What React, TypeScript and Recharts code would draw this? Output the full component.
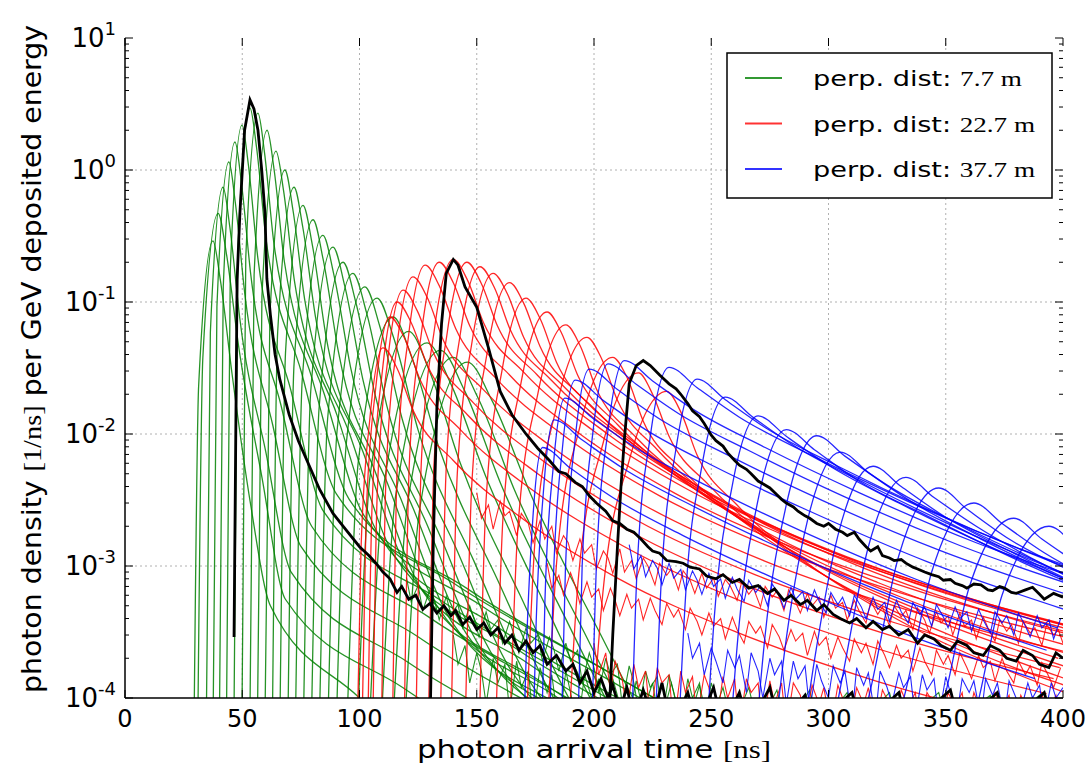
import React from "react";
import { LineChart, Line, XAxis, YAxis, CartesianGrid } from "recharts";

type Pt = [number, number];

// perp. dist 7.7 m (time [ns], density) key points
const greenCurves: Pt[][] = [
  [[29.4,5e-5],[31.4,0.023],[37.5,0.29],[40.7,0.145],[45.6,0.029],[53.6,0.0029],[62,5e-4],[100,1e-4],[130,3e-5]],
  [[31,5e-5],[33.2,0.038],[39.7,0.47],[43.2,0.235],[48.4,0.047],[58.4,0.0047],[68.4,5.6e-4],[118.4,1.2e-4],[178.4,2.8e-5]],
  [[34.6,5e-5],[36.4,0.059],[41.8,0.74],[44.7,0.37],[49,0.074],[60,0.0074],[71,8.9e-4],[121,1.85e-4],[181,4.4e-5],[210,2e-5]],
  [[37.5,5e-5],[39.2,0.092],[44.3,1.15],[47,0.575],[51.1,0.115],[63.1,0.0115],[75.1,0.0014],[125.1,2.9e-4],[185.1,6.9e-5],[230,2.5e-5]],
  [[40.2,5e-5],[41.9,0.13],[46.9,1.63],[49.6,0.815],[53.6,0.163],[66.6,0.0163],[79.6,0.002],[129.6,4.1e-4],[189.6,9.8e-5],[240,3e-5]],
  [[43.2,5e-5],[44.9,0.175],[49.9,2.19],[52.6,1.1],[56.6,0.219],[70.6,0.0219],[84.6,0.0026],[134.6,5.5e-4],[194.6,1.3e-4],[250,3.5e-5]],
  [[46.4,5e-5],[48.1,0.236],[53.3,2.95],[56.1,1.48],[60.2,0.295],[75.2,0.0295],[90.2,0.0035],[140.2,7.4e-4],[200.2,1.8e-4],[260,4.5e-5]],
  [[49.8,5e-5],[51.5,0.216],[56.7,2.7],[59.5,1.35],[63.6,0.27],[79.6,0.027],[95.6,0.0032],[145.6,6.8e-4],[205.6,1.6e-4],[265,4e-5]],
  [[53.2,5e-5],[55.05,0.16],[60.6,2.0],[63.6,1.0],[68,0.2],[85,0.02],[102,0.0024],[152,5e-4],[212,1.2e-4],[270,3e-5]],
  [[56.4,5e-5],[58.4,0.111],[64.4,1.39],[67.6,0.7],[72.4,0.139],[90.4,0.0139],[108.4,0.0017],[158.4,3.5e-4],[218.4,8.3e-5],[275,2.5e-5]],
  [[59.6,5e-5],[61.8,0.08],[68.2,1.0],[71.6,0.5],[76.8,0.1],[95.8,0.01],[114.8,0.0012],[164.8,2.5e-4],[224.8,6e-5],[280,2e-5]],
  [[62.8,5e-5],[65.1,0.059],[72.1,0.74],[75.8,0.37],[81.4,0.074],[101.4,0.0074],[121.4,8.9e-4],[171.4,1.85e-4],[231.4,4.4e-5]],
  [[66,5e-5],[68.5,0.043],[75.9,0.54],[79.9,0.27],[85.8,0.054],[106.3,0.0054],[126.8,6.5e-4],[176.8,1.35e-4],[236.8,3.2e-5]],
  [[69.4,5e-5],[72.1,0.034],[80.2,0.42],[84.5,0.21],[91,0.042],[112,0.0042],[133,5e-4],[183,1.05e-4],[243,2.5e-5]],
  [[72.6,5e-5],[75.6,0.026],[84.4,0.32],[89.1,0.16],[96.2,0.032],[117.7,0.0032],[139.2,3.8e-4],[189.2,8e-5],[249.2,1.9e-5]],
  [[76,5e-5],[79.2,0.021],[88.7,0.26],[93.8,0.13],[101.4,0.026],[123.4,0.0026],[145.4,3.1e-4],[195.4,6.5e-5],[255.4,1.6e-5]],
  [[79.4,5e-5],[82.8,0.016],[93,0.2],[98.4,0.1],[106.6,0.02],[129.1,0.002],[151.6,2.4e-4],[201.6,5e-5],[261.6,1.2e-5]],
  [[82.8,5e-5],[86.4,0.013],[97.2,0.165],[103,0.083],[111.6,0.0165],[134.6,0.00165],[157.6,2e-4],[207.6,4.1e-5]],
  [[86.4,5e-5],[90.4,0.0104],[102.3,0.13],[108.7,0.065],[118.2,0.013],[141.7,0.0013],[165.2,1.56e-4],[215.2,3.3e-5]],
  [[90,5e-5],[94.4,0.0086],[107.5,0.107],[114.5,0.054],[125,0.0107],[149,0.00107],[173,1.3e-4],[223,2.7e-5]],
  [[94.5,5e-5],[99.5,0.0062],[114.3,0.077],[122.2,0.0385],[134.1,0.0077],[159.1,7.7e-4],[184.1,9.2e-5],[234.1,1.9e-5]],
  [[99,5e-5],[104.5,0.0048],[121,0.06],[129.8,0.03],[143,0.006],[168.5,6e-4],[194,7.2e-5],[244,1.5e-5]],
  [[104,5e-5],[110.2,0.0039],[128.8,0.049],[138.7,0.0245],[153.6,0.0049],[179.6,4.9e-4],[205.6,5.9e-5],[250,1.2e-5]],
  [[109,5e-5],[115.4,0.0034],[134.5,0.043],[144.7,0.0215],[160,0.0043],[187,4.3e-4],[214,5.2e-5],[260,1e-5]],
  [[114,5e-5],[120.5,0.003],[140,0.038],[150.4,0.019],[166,0.0038],[193.5,3.8e-4],[221,4.6e-5],[265,1e-5]],
  [[119,5e-5],[125.8,0.0028],[146,0.035],[156.8,0.0175],[173,0.0035],[201,3.5e-4],[229,4.2e-5],[270,1e-5]],
];

// noisy low-level green tails
const greenNoise: Pt[][] = [
  [[120,8.2e-4],[122,5.4e-4],[125,7.1e-4],[127,4.6e-4],[130,6.6e-4],[132,5.5e-4],[134,3.9e-4],[137,5.9e-4],[139,4.3e-4],[142,5.1e-4],[144,3.4e-4],
   [147,5.0e-4],[149,3.9e-4],[151,2.9e-4],[154,4.5e-4],[156,3.3e-4],[159,3.9e-4],[161,2.6e-4],[164,3.8e-4],[166,3.0e-4],[168,2.2e-4],[171,3.4e-4],
   [173,2.6e-4],[176,3.0e-4],[178,1.9e-4],[181,2.9e-4],[183,2.3e-4],[185,1.6e-4],[188,2.6e-4],[190,1.9e-4],[193,2.3e-4],[195,1.3e-4],[198,2.2e-4],
   [200,1.7e-4],[202,1.1e-4],[205,2.0e-4],[207,1.5e-4],[210,1.8e-4],[212,9e-5],[215,1.75e-4],[217,1.3e-4],[219,8e-5],[222,1.6e-4],[224,1.2e-4],
   [227,1.45e-4],[229,7e-5],[232,1.5e-4],[234,1.1e-4],[237,6e-5],[240,1.4e-4],[242,1.0e-4],[245,1.3e-4],[247,6e-5],[250,1.3e-4],[253,9e-5],[256,6e-5]],
  [[140,3.0e-4],[142,1.8e-4],[145,2.5e-4],[147,1.3e-4],[150,2.2e-4],[152,1.6e-4],[154,9e-5],[157,2.0e-4],[159,1.3e-4],[162,1.8e-4],[164,8e-5],
   [167,1.9e-4],[169,1.2e-4],[172,1.6e-4],[174,7e-5],[177,1.7e-4],[180,1.1e-4],[182,1.5e-4],[185,6e-5],[188,1.6e-4],[190,1.1e-4],[193,6e-5],
   [196,1.5e-4],[199,1.0e-4],[202,1.4e-4],[204,6e-5],[208,1.4e-4],[211,9e-5],[214,6e-5],[218,1.35e-4],[221,8e-5],[225,1.3e-4],[228,6e-5],[233,1.3e-4],
   [236,8e-5],[240,6e-5],[245,1.25e-4],[249,6e-5],[255,1.2e-4],[259,6e-5],[266,1.2e-4],[270,6e-5],[278,1.15e-4],[282,6e-5],[292,1.15e-4],[296,6e-5],
   [308,1.1e-4],[312,6e-5],[326,1.1e-4],[330,6e-5],[347,1.1e-4],[351,6e-5],[369,1.05e-4],[373,6e-5],[390,1.05e-4],[394,6e-5]],
];

// perp. dist 22.7 m
const redCurves: Pt[][] = [
  [[99,5e-5],[100.65,0.00135],[104.5,0.0135],[110,0.045],[116,0.0315],[123,0.0149],[140,0.0063],[170,0.00225],[210,8.1e-4],[260,3.2e-4],[320,1.35e-4],[390,6.3e-5]],
  [[101,5e-5],[102.8,0.0023],[107,0.023],[113,0.077],[119,0.054],[126,0.0254],[143,0.0108],[173,0.00385],[213,0.0014],[263,5.4e-4],[323,2.3e-4],[393,1.08e-4]],
  [[103.5,5e-5],[105.4,0.003],[109.75,0.03],[116,0.1],[122,0.07],[129,0.033],[146,0.014],[176,0.005],[216,0.0018],[266,7e-4],[326,3e-4],[396,1.4e-4]],
  [[105.6,5e-5],[107.6,0.0037],[112.1,0.037],[118.6,0.123],[124.6,0.086],[131.6,0.041],[148.6,0.0172],[178.6,0.0062],[218.6,0.0022],[268.6,8.6e-4],[328.6,3.7e-4],[398.6,1.7e-4]],
  [[109.3,5e-5],[111.3,0.0047],[116,0.047],[122.8,0.155],[128.8,0.109],[135.8,0.051],[152.8,0.0217],[182.8,0.0078],[222.8,0.0028],[272.8,0.00109],[332.8,4.7e-4],[402.8,2.2e-4]],
  [[114,5e-5],[116.1,0.0057],[121,0.057],[128,0.19],[134,0.133],[141,0.063],[158,0.0266],[188,0.0095],[228,0.0034],[278,0.00133],[338,5.7e-4],[408,2.7e-4]],
  [[119,5e-5],[121.25,0.006],[126.5,0.06],[134,0.2],[140,0.14],[147,0.066],[164,0.028],[194,0.01],[234,0.0036],[284,0.0014],[344,6e-4],[414,2.8e-4]],
  [[124,5e-5],[126.4,0.0063],[132,0.063],[140,0.21],[146,0.147],[153,0.069],[170,0.0294],[200,0.0105],[240,0.0038],[290,0.00147],[350,6.3e-4],[420,2.9e-4]],
  [[129.3,5e-5],[131.8,0.006],[137.5,0.06],[145.8,0.2],[151.8,0.14],[158.8,0.066],[175.8,0.028],[205.8,0.01],[245.8,0.0036],[295.8,0.0014],[355.8,6e-4],[425.8,2.8e-4]],
  [[134.4,5e-5],[137,0.0056],[142.9,0.056],[151.4,0.185],[157.4,0.13],[164.4,0.061],[181.4,0.026],[211.4,0.0093],[251.4,0.0033],[301.4,0.0013],[361.4,5.6e-4],[431.4,2.6e-4]],
  [[139,5e-5],[141.7,0.005],[148,0.05],[157,0.165],[163,0.116],[170,0.054],[187,0.023],[217,0.0083],[257,0.003],[307,0.00116],[367,5e-4],[437,2.3e-4]],
  [[145,5e-5],[147.9,0.0042],[154.5,0.042],[164,0.14],[170,0.098],[177,0.046],[194,0.0196],[224,0.007],[264,0.0025],[314,9.8e-4],[374,4.2e-4],[444,2e-4]],
  [[151,5e-5],[154,0.0032],[161,0.032],[171,0.107],[177,0.075],[184,0.035],[201,0.015],[231,0.0054],[271,0.0019],[321,7.5e-4],[381,3.2e-4],[451,1.5e-4]],
  [[158,5e-5],[161.3,0.0025],[169,0.025],[180,0.084],[186,0.059],[193,0.028],[210,0.0118],[240,0.0042],[280,0.0015],[330,5.9e-4],[390,2.5e-4],[460,1.2e-4]],
  [[164,5e-5],[167.6,0.002],[176,0.02],[188,0.067],[194,0.047],[201,0.022],[218,0.0094],[248,0.0034],[288,0.0012],[338,4.7e-4],[398,2e-4]],
  [[171,5e-5],[174.9,0.0016],[184,0.016],[197,0.054],[203,0.038],[210,0.018],[227,0.0076],[257,0.0027],[297,9.7e-4],[347,3.8e-4],[407,1.6e-4]],
  [[180,5e-5],[184.2,0.00114],[194,0.0114],[208,0.038],[214,0.027],[221,0.0125],[238,0.0053],[268,0.0019],[308,6.8e-4],[358,2.7e-4],[418,1.1e-4]],
  [[189,5e-5],[193.5,8.7e-4],[204,0.0087],[219,0.029],[225,0.02],[232,0.0096],[249,0.0041],[279,0.00145],[319,5.2e-4],[369,2e-4],[429,8.7e-5]],
  [[199,5e-5],[203.8,6.3e-4],[215,0.0063],[231,0.021],[237,0.0147],[244,0.0069],[261,0.0029],[291,0.00105],[331,3.8e-4],[381,1.5e-4],[441,6.3e-5]],
];

// noisy low-level red tails
const redNoise: Pt[][] = [
  [[150,3.6e-3],[152,2.3e-3],[155,2.9e-3],[157,1.9e-3],[160,3.1e-3],[162,2.4e-3],[164,2.6e-3],[167,1.7e-3],[169,2.5e-3],[172,2.1e-3],[174,1.5e-3],
   [177,2.2e-3],[179,1.6e-3],[182,2.0e-3],[184,1.25e-3],[187,1.7e-3],[189,1.5e-3],[191,1.1e-3],[194,1.6e-3],[196,1.25e-3],[199,1.45e-3],[201,9.5e-4],
   [204,1.3e-3],[206,1.15e-3],[208,8.8e-4],[211,1.35e-3],[213,9e-4],[216,1.1e-3],[218,8e-4],[221,1.15e-3],[223,1.0e-3],[226,7.2e-4],[228,1.05e-3],
   [231,8.5e-4],[233,9.5e-4],[236,6.6e-4],[238,9.2e-4],[241,7.8e-4],[243,6.2e-4],[246,8.8e-4],[248,6.8e-4],[251,8.1e-4],[253,5.9e-4],[256,7.9e-4],
   [258,7.1e-4],[261,5.5e-4],[263,7.6e-4],[266,6.1e-4],[268,6.8e-4],[271,4.9e-4],[273,7.0e-4],[276,5.8e-4],[278,6.5e-4],[281,4.6e-4],[283,6.6e-4],
   [286,5.3e-4],[288,4.4e-4],[291,6.2e-4],[293,5.0e-4],[296,5.8e-4],[298,4.1e-4],[301,6.0e-4],[303,4.8e-4],[306,5.3e-4],[308,3.9e-4],[311,5.5e-4],
   [313,4.6e-4],[316,3.7e-4],[318,5.4e-4],[321,4.3e-4],[323,4.9e-4],[326,3.5e-4],[328,5.0e-4],[331,4.1e-4],[333,4.6e-4],[336,3.3e-4],[338,4.8e-4],
   [341,3.9e-4],[343,3.1e-4],[346,4.5e-4],[348,3.7e-4],[351,4.2e-4],[353,3.0e-4],[356,4.4e-4],[358,3.5e-4],[361,3.9e-4],[363,2.8e-4],[366,4.1e-4],
   [368,3.4e-4],[371,2.7e-4],[373,3.9e-4],[376,3.2e-4],[378,3.6e-4],[381,2.6e-4],[383,3.8e-4],[386,3.1e-4],[388,3.4e-4],[391,2.5e-4],[393,3.6e-4],
   [396,3.0e-4],[398,3.3e-4],[400,2.6e-4]],
  [[180,1.05e-3],[182,6.8e-4],[185,8.5e-4],[187,6.0e-4],[190,8.9e-4],[192,7.1e-4],[194,5.2e-4],[197,7.6e-4],[199,5.8e-4],[202,6.7e-4],[204,4.6e-4],
   [207,6.8e-4],[209,5.5e-4],[211,4.2e-4],[214,6.1e-4],[216,4.8e-4],[219,5.6e-4],[221,3.9e-4],[224,5.7e-4],[226,4.6e-4],[229,3.6e-4],[231,5.2e-4],
   [234,4.1e-4],[236,4.7e-4],[239,3.3e-4],[241,4.8e-4],[244,3.8e-4],[246,3.0e-4],[249,4.4e-4],[251,3.5e-4],[254,4.0e-4],[256,2.8e-4],[259,4.1e-4],
   [261,3.3e-4],[264,2.6e-4],[266,3.8e-4],[269,3.1e-4],[271,3.5e-4],[274,2.4e-4],[276,3.6e-4],[279,2.9e-4],[281,2.3e-4],[284,3.3e-4],[286,2.7e-4],
   [289,3.1e-4],[291,2.1e-4],[294,3.2e-4],[296,2.5e-4],[299,2.9e-4],[301,2.0e-4],[304,2.9e-4],[306,2.4e-4],[309,1.9e-4],[311,2.8e-4],[314,2.2e-4],
   [316,2.6e-4],[319,1.8e-4],[321,2.7e-4],[324,2.1e-4],[326,1.7e-4],[329,2.5e-4],[331,2.0e-4],[334,2.3e-4],[336,1.6e-4],[339,2.4e-4],[341,1.9e-4],
   [344,1.5e-4],[346,2.3e-4],[349,1.8e-4],[351,2.1e-4],[354,1.5e-4],[356,2.2e-4],[359,1.7e-4],[361,1.4e-4],[364,2.1e-4],[366,1.7e-4],[369,1.9e-4],
   [371,1.35e-4],[374,2.0e-4],[376,1.6e-4],[379,1.3e-4],[381,1.9e-4],[384,1.5e-4],[386,1.75e-4],[389,1.25e-4],[391,1.85e-4],[394,1.45e-4],[396,1.2e-4],[399,1.7e-4]],
  [[200,2.6e-4],[202,1.5e-4],[205,2.2e-4],[207,1.1e-4],[209,1.9e-4],[212,1.4e-4],[214,8e-5],[217,1.8e-4],[219,1.2e-4],[222,1.6e-4],[224,7e-5],
   [227,1.7e-4],[229,1.3e-4],[232,1.5e-4],[234,6e-5],[237,1.6e-4],[239,1.1e-4],[242,1.45e-4],[244,7e-5],[247,1.5e-4],[249,1.2e-4],[252,6e-5],
   [255,1.45e-4],[257,1.0e-4],[260,1.4e-4],[262,6e-5],[265,1.4e-4],[267,1.1e-4],[270,1.3e-4],[272,6e-5],[275,1.35e-4],[277,9e-5],[280,1.3e-4],
   [282,6e-5],[285,1.3e-4],[288,1.05e-4],[290,6e-5],[293,1.25e-4],[296,9e-5],[298,1.2e-4],[301,6e-5],[304,1.25e-4],[306,1.0e-4],[309,6e-5],
   [312,1.2e-4],[315,9e-5],[317,1.2e-4],[320,6e-5],[323,1.15e-4],[326,9e-5],[328,6e-5],[331,1.15e-4],[334,8.5e-5],[337,1.1e-4],[339,6e-5],
   [342,1.1e-4],[345,9e-5],[348,6e-5],[351,1.1e-4],[354,8.5e-5],[357,1.1e-4],[359,6e-5],[362,1.1e-4],[365,8e-5],[368,6e-5],[371,1.1e-4],
   [374,8.5e-5],[377,1.05e-4],[379,6e-5],[382,1.05e-4],[385,8e-5],[388,6e-5],[391,1.05e-4],[394,8e-5],[397,1.05e-4],[400,6e-5]],
];

// perp. dist 37.7 m
const blueCurves: Pt[][] = [
  [[170,5e-5],[171.2,2.4e-4],[174,0.0024],[178,0.0079],[190,0.0055],[208,0.0033],[238,0.0017],[278,7.9e-4],[328,3.3e-4],[388,1.4e-4]],
  [[174,5e-5],[175.35,3.8e-4],[178.5,0.0038],[183,0.0128],[195,0.009],[213,0.0054],[243,0.0028],[283,0.00128],[333,5.4e-4],[393,2.3e-4]],
  [[177.6,5e-5],[179.1,5.6e-4],[182.6,0.0056],[187.6,0.0187],[199.6,0.0131],[217.6,0.0079],[247.6,0.0041],[287.6,0.00187],[337.6,7.9e-4],[397.6,3.4e-4]],
  [[181,5e-5],[182.65,7.7e-4],[186.5,0.0077],[192,0.0256],[204,0.0179],[222,0.0108],[252,0.0056],[292,0.0026],[342,0.00108],[402,4.6e-4]],
  [[186,5e-5],[187.8,9.3e-4],[192,0.0093],[198,0.031],[210,0.0217],[228,0.013],[258,0.0068],[298,0.0031],[348,0.0013],[408,5.6e-4]],
  [[193,5e-5],[194.95,0.001],[199.5,0.0102],[206,0.034],[218,0.0238],[236,0.0143],[266,0.0075],[306,0.0034],[356,0.00143],[416,6.1e-4]],
  [[199,5e-5],[201.1,0.00108],[206,0.0108],[213,0.036],[225,0.0252],[243,0.0151],[273,0.0079],[313,0.0036],[363,0.0015],[423,6.5e-4]],
  [[216,5e-5],[218.4,9.6e-4],[224,0.0096],[232,0.032],[244,0.0224],[262,0.0134],[292,0.007],[332,0.0032],[382,0.00134],[442,5.8e-4]],
  [[226,5e-5],[228.7,7.8e-4],[235,0.0078],[244,0.026],[256,0.0182],[274,0.0109],[304,0.0057],[344,0.0026],[394,0.0011],[454,4.7e-4]],
  [[236,5e-5],[239,5.7e-4],[246,0.0057],[256,0.019],[268,0.0133],[286,0.008],[316,0.0042],[356,0.0019],[406,8e-4]],
  [[248,5e-5],[251.3,4.1e-4],[259,0.0041],[270,0.0137],[282,0.0096],[300,0.0058],[330,0.003],[370,0.00137],[420,5.8e-4]],
  [[258,5e-5],[261.6,3.2e-4],[270,0.0032],[282,0.0108],[294,0.0076],[312,0.0045],[342,0.0024],[382,0.00108],[432,4.5e-4]],
  [[269,5e-5],[272.9,2.9e-4],[282,0.0029],[295,0.0097],[307,0.0068],[325,0.0041],[355,0.0021],[395,9.7e-4],[445,4.1e-4]],
  [[277,5e-5],[281.2,2.2e-4],[291,0.0022],[305,0.0073],[317,0.0051],[335,0.0031],[365,0.0016],[405,7.3e-4]],
  [[289,5e-5],[293.5,1.7e-4],[304,0.0017],[319,0.0057],[331,0.004],[349,0.0024],[379,0.00125],[419,5.7e-4]],
  [[301,5e-5],[305.8,1.4e-4],[317,0.0014],[333,0.0047],[345,0.0033],[363,0.002],[393,0.001],[433,4.7e-4]],
  [[313,5e-5],[318.1,1.2e-4],[330,0.0012],[347,0.0039],[359,0.0027],[377,0.0016],[407,8.6e-4]],
  [[326,5e-5],[331.4,9e-5],[344,9e-4],[362,0.003],[374,0.0021],[392,0.00126],[422,6.6e-4]],
  [[341,5e-5],[346.7,6.9e-5],[360,6.9e-4],[379,0.0023],[391,0.0016],[409,9.7e-4]],
  [[354,5e-5],[360,6e-5],[374,6e-4],[394,0.002],[406,0.0014],[424,8.4e-4]],
];

// noisy low-level blue tails
const blueNoise: Pt[][] = [
  [[215,1.45e-3],[217,9.5e-4],[220,1.2e-3],[222,8.3e-4],[225,1.1e-3],[227,9.6e-4],[229,7.2e-4],[232,1.05e-3],[234,8.1e-4],[237,9.4e-4],[239,6.6e-4],
   [242,9.2e-4],[244,7.8e-4],[246,6.1e-4],[249,8.8e-4],[251,7.0e-4],[254,8.0e-4],[256,5.7e-4],[259,8.2e-4],[261,6.7e-4],[264,5.4e-4],[266,7.8e-4],
   [269,6.3e-4],[271,7.1e-4],[274,5.0e-4],[276,7.3e-4],[279,6.0e-4],[281,4.8e-4],[284,6.9e-4],[286,5.6e-4],[289,6.4e-4],[291,4.6e-4],[294,6.6e-4],
   [296,5.4e-4],[299,4.4e-4],[301,6.3e-4],[304,5.1e-4],[306,5.8e-4],[309,4.2e-4],[311,6.0e-4],[314,4.9e-4],[316,4.0e-4],[319,5.8e-4],[321,4.7e-4],
   [324,5.3e-4],[326,3.8e-4],[329,5.5e-4],[331,4.5e-4],[334,3.7e-4],[336,5.3e-4],[339,4.3e-4],[341,4.9e-4],[344,3.5e-4],[346,5.1e-4],[349,4.1e-4],
   [351,3.4e-4],[354,4.9e-4],[356,4.0e-4],[359,4.5e-4],[361,3.2e-4],[364,4.7e-4],[366,3.9e-4],[369,3.1e-4],[371,4.5e-4],[374,3.7e-4],[376,4.2e-4],
   [379,3.0e-4],[381,4.4e-4],[384,3.5e-4],[386,2.9e-4],[389,4.2e-4],[391,3.4e-4],[394,3.9e-4],[396,2.8e-4],[399,4.0e-4]],
  [[240,3.1e-4],[242,2.0e-4],[245,2.6e-4],[247,1.5e-4],[250,2.4e-4],[252,1.9e-4],[255,1.3e-4],[257,2.3e-4],[260,1.7e-4],[262,2.1e-4],[265,1.1e-4],
   [267,2.2e-4],[270,1.6e-4],[272,1.0e-4],[275,2.0e-4],[277,1.5e-4],[280,1.9e-4],[282,9e-5],[285,1.9e-4],[287,1.4e-4],[290,1.75e-4],[292,8e-5],
   [295,1.8e-4],[297,1.35e-4],[300,1.0e-4],[302,1.75e-4],[305,1.3e-4],[307,1.6e-4],[310,7e-5],[312,1.7e-4],[315,1.25e-4],[317,1.55e-4],[320,7e-5],
   [322,1.6e-4],[325,1.2e-4],[327,9e-5],[330,1.55e-4],[332,1.2e-4],[335,1.45e-4],[337,7e-5],[340,1.5e-4],[342,1.15e-4],[345,1.4e-4],[347,7e-5],
   [350,1.45e-4],[352,1.1e-4],[355,8e-5],[357,1.4e-4],[360,1.1e-4],[362,1.35e-4],[365,7e-5],[367,1.4e-4],[370,1.05e-4],[372,1.3e-4],[375,7e-5],
   [377,1.35e-4],[380,1.0e-4],[382,8e-5],[385,1.3e-4],[387,1.0e-4],[390,1.25e-4],[392,7e-5],[395,1.3e-4],[397,1.0e-4],[400,1.2e-4]],
];

// the three highlighted (black) curves
const blackNear: Pt[] = [
  [46.5,2.9e-4],[47.8,0.147],[49,0.47],[51,2.0],[53.3,3.4],[55,2.9],[56.7,2.0],[58.3,1.0],[59.7,0.47],[60.5,0.15],[62,0.08],[64,0.04],[66,0.026],
  [70,0.014],[74,0.0088],[77.6,0.0063],[83,0.0038],[88.7,0.0025],[94,0.0019],[100,0.0014],[104,0.0012],[107,0.00105],[110,9e-4],[113,8e-4],
  [116,6.3e-4],[118,7e-4],[121,5.6e-4],[124,6e-4],[127,4.7e-4],[130,5.2e-4],[133,4.4e-4],[136,5e-4],[139,4.2e-4],[141,4.6e-4],[144,3.6e-4],
  [147,4.1e-4],[150,3.3e-4],[153,3.7e-4],[156,3.0e-4],[159,3.4e-4],[162,2.6e-4],[165,3.0e-4],[168,2.3e-4],[171,2.7e-4],[174,2.2e-4],[177,2.5e-4],
  [180,1.8e-4],[184,2.1e-4],[188,1.6e-4],[191,1.8e-4],[194,1.3e-4],[197,1.6e-4],[200,1.1e-4],[203,1.4e-4],[206,1.0e-4],[208,1.25e-4],[211,8e-5],
  [214,1.2e-4],[217,7e-5],[221,1.15e-4],[225,7e-5],[229,1.3e-4],[233,6e-5],[240,1.1e-4],[244,6e-5],[251,1.2e-4],[255,6e-5],[262,1.1e-4],[266,6e-5],
  [275,1.2e-4],[279,6e-5],[290,1.05e-4],[294,6e-5],[310,1.1e-4],[314,6e-5],[330,1.1e-4],[334,6e-5],[352,1.15e-4],[356,6e-5],[372,1.1e-4],[376,6e-5],
  [392,1.1e-4],[396,6e-5],
];
const blackMid: Pt[] = [
  [130,5e-5],[131.5,1.6e-3],[133,0.016],[135,0.069],[137,0.165],[140,0.21],[142,0.19],[145,0.13],[150,0.091],[155,0.045],[160,0.021],[165,0.014],
  [171,0.010],[176,0.0078],[181,0.0063],[185,0.0052],[188,0.0050],[192,0.0043],[195,0.0040],[198,0.0034],[201,0.0030],[205,0.0026],[208,0.0022],
  [211,0.0021],[214,0.0019],[217,0.0018],[220,0.0016],[223,0.0014],[225,0.0013],[228,0.00125],[231,0.0011],[235,0.00108],[238,0.00105],[241,9.8e-4],
  [245,9.5e-4],[248,8.4e-4],[252,8e-4],[255,8.6e-4],[259,7.5e-4],[262,7.9e-4],[266,6.8e-4],[270,7.1e-4],[274,6.2e-4],[277,6.7e-4],[281,5.5e-4],
  [284,6.0e-4],[288,5.1e-4],[291,5.5e-4],[295,4.6e-4],[298,5.1e-4],[302,4.3e-4],[305,4.0e-4],[309,3.7e-4],[312,4.0e-4],[316,3.4e-4],[319,3.8e-4],
  [323,3.3e-4],[326,3.5e-4],[330,3.0e-4],[334,3.3e-4],[338,2.6e-4],[341,3.0e-4],[345,2.8e-4],[348,2.5e-4],[352,2.3e-4],[355,2.7e-4],[359,2.5e-4],
  [362,2.2e-4],[366,2.1e-4],[369,2.5e-4],[373,2.3e-4],[376,2.0e-4],[380,1.9e-4],[383,2.3e-4],[387,2.1e-4],[390,1.8e-4],[394,1.7e-4],[397,2.2e-4],[400,2.0e-4],
];
const blackFar: Pt[] = [
  [206,5e-5],[208,3e-4],[210,1.4e-3],[211.5,0.004],[213,0.0093],[215,0.024],[218,0.033],[221,0.036],[224,0.033],[228,0.028],[232,0.024],[235,0.022],
  [237,0.02],[240,0.017],[242,0.015],[245,0.0135],[247,0.012],[250,0.0098],[252,0.0089],[255,0.0081],[257,0.0072],[260,0.0063],[262,0.0058],
  [265,0.0054],[267,0.005],[270,0.0044],[272,0.0042],[275,0.0039],[277,0.0036],[280,0.0032],[282,0.003],[285,0.0028],[287,0.0026],[290,0.0024],
  [292,0.0023],[295,0.0021],[298,0.002],[300,0.0021],[303,0.0019],[306,0.0018],[308,0.0017],[311,0.0018],[313,0.0016],[316,0.0014],[318,0.0013],
  [321,0.0014],[323,0.0012],[326,0.00115],[328,0.0011],[331,0.00112],[333,0.00105],[336,9.8e-4],[338,9.5e-4],[341,9.0e-4],[344,8.6e-4],[347,8.3e-4],
  [349,7.8e-4],[352,7.9e-4],[354,7.4e-4],[357,7.1e-4],[359,6.8e-4],[362,7.3e-4],[365,7.2e-4],[368,6.6e-4],[370,6.5e-4],[373,7.0e-4],[375,6.8e-4],
  [378,6.3e-4],[380,6.2e-4],[384,6.6e-4],[387,6.9e-4],[390,6.1e-4],[392,5.6e-4],[396,6.2e-4],[400,5.8e-4],
];

const xTicks = [0, 50, 100, 150, 200, 250, 300, 350, 400];
const yMajorTicks = [1e-4, 1e-3, 1e-2, 1e-1, 1, 10];
const yExponents = ["-4", "-3", "-2", "-1", "0", "1"];
const yMinorSteps = [2, 3, 4, 5, 6, 7, 8, 9];
const legendItems = [
  { dist: "7.7 m", color: "#008000", len: 209 },
  { dist: "22.7 m", color: "#ff0000", len: 222 },
  { dist: "37.7 m", color: "#0000ff", len: 222 },
];

const W = 1091;
const H = 770;
const LEFT = 125;
const RIGHT = 1063;
const TOP = 38;
const BOTTOM = 698;
const SANS = "DejaVu Sans";
const MATH = "Liberation Serif";

const yMinorTicks = yMajorTicks.slice(0, -1).flatMap((d) => yMinorSteps.map((m) => m * d));
const yTicks = [...yMajorTicks, ...yMinorTicks];

const toRows = (pts: Pt[]) => pts.map(([t, v]) => ({ t, v }));

function XTick(props: any) {
  const { x, payload } = props;
  return (
    <g>
      <line x1={x} x2={x} y1={BOTTOM} y2={BOTTOM - 8} stroke="#000" />
      <line x1={x} x2={x} y1={TOP} y2={TOP + 8} stroke="#000" />
      <text x={x} y={727} textAnchor="middle" fontFamily={SANS} fontSize={24} fill="#000">
        {payload.value}
      </text>
    </g>
  );
}

function YTick(props: any) {
  const { y, payload } = props;
  const i = yMajorTicks.indexOf(payload.value);
  const len = i >= 0 ? 8 : 4;
  return (
    <g>
      <line x1={LEFT} x2={LEFT + len} y1={y} y2={y} stroke="#000" />
      <line x1={RIGHT - len} x2={RIGHT} y1={y} y2={y} stroke="#000" />
      {i >= 0 && (
        <text x={116} y={y + 9} textAnchor="end" fontFamily={SANS} fontSize={26} fill="#000">
          10<tspan dy={-12} fontSize={18}>{yExponents[i]}</tspan>
        </text>
      )}
    </g>
  );
}

const frame = { stroke: "#000", strokeWidth: 1.5 };

export default function App() {
  const series = (curves: Pt[][], color: string, tag: string, type: "monotone" | "linear", width: number) =>
    curves.map((c, i) => (
      <Line
        key={`${tag}-${i}`}
        data={toRows(c)}
        dataKey="v"
        xAxisId="b"
        yAxisId="l"
        type={type}
        stroke={color}
        strokeOpacity={0.85}
        strokeWidth={width}
        dot={false}
        activeDot={false}
        isAnimationActive={false}
      />
    ));

  const blacks = [blackNear, blackMid, blackFar];

  return (
    <div style={{ position: "absolute", left: 0, top: 0, width: W, height: H, background: "#fff" }}>
      <LineChart
        width={W}
        height={H}
        margin={{ top: TOP, right: W - RIGHT, bottom: H - BOTTOM - 40, left: LEFT - 90 }}
      >
        <CartesianGrid
          xAxisId="b"
          yAxisId="l"
          verticalValues={xTicks.slice(1, -1)}
          horizontalValues={yMajorTicks.slice(1, -1)}
          stroke="#b0b0b0"
          strokeDasharray="2 3"
        />
        <XAxis
          xAxisId="b"
          dataKey="t"
          type="number"
          domain={[0, 400]}
          allowDataOverflow
          ticks={xTicks}
          interval={0}
          tick={<XTick />}
          tickLine={false}
          axisLine={frame}
          height={40}
        />
        <XAxis
          xAxisId="t"
          orientation="top"
          dataKey="t"
          type="number"
          domain={[0, 400]}
          allowDataOverflow
          tick={false}
          tickLine={false}
          axisLine={frame}
          height={0}
        />
        <YAxis
          yAxisId="l"
          type="number"
          scale="log"
          domain={[1e-4, 10]}
          allowDataOverflow
          ticks={yTicks}
          interval={0}
          tick={<YTick />}
          tickLine={false}
          axisLine={frame}
          width={90}
        />
        <YAxis
          yAxisId="r"
          orientation="right"
          type="number"
          scale="log"
          domain={[1e-4, 10]}
          allowDataOverflow
          tick={false}
          tickLine={false}
          axisLine={frame}
          width={0}
        />
        {series(greenCurves, "#008000", "g", "monotone", 1.3)}
        {series(greenNoise, "#008000", "gn", "linear", 1.1)}
        {series(redCurves, "#ff0000", "r", "monotone", 1.3)}
        {series(redNoise, "#ff0000", "rn", "linear", 1.1)}
        {series(blueCurves, "#0000ff", "b", "monotone", 1.3)}
        {series(blueNoise, "#0000ff", "bn", "linear", 1.1)}
        {blacks.map((c, i) => (
          <Line
            key={`k-${i}`}
            data={toRows(c)}
            dataKey="v"
            xAxisId="b"
            yAxisId="l"
            type="linear"
            stroke="#000"
            strokeWidth={2.8}
            dot={false}
            activeDot={false}
            isAnimationActive={false}
          />
        ))}
      </LineChart>

      <svg width={W} height={H} style={{ position: "absolute", left: 0, top: 0, pointerEvents: "none" }}>
        <text
          x={594}
          y={758}
          textAnchor="middle"
          fontFamily={SANS}
          fontSize={25}
          fill="#000"
          textLength={354}
          lengthAdjust="spacingAndGlyphs"
        >
          {"photon arrival time "}
          <tspan fontFamily={MATH}>[ns]</tspan>
        </text>
        <text
          transform="translate(41,359) rotate(-90)"
          textAnchor="middle"
          fontFamily={SANS}
          fontSize={26}
          fill="#000"
          textLength={668}
          lengthAdjust="spacingAndGlyphs"
        >
          {"photon density "}
          <tspan fontFamily={MATH}>[1/ns]</tspan>
          {" per GeV deposited energy"}
        </text>

        <rect x={727} y={53} width={325} height={145} fill="#fff" stroke="#000" strokeWidth={1.5} />
        {legendItems.map((it, i) => {
          const cy = 78 + i * 45.5;
          return (
            <g key={it.dist}>
              <line x1={745} x2={782} y1={cy} y2={cy} stroke={it.color} strokeOpacity={0.8} strokeWidth={2} />
              <text
                x={813}
                y={cy + 8}
                fontFamily={SANS}
                fontSize={22}
                fill="#000"
                textLength={it.len}
                lengthAdjust="spacingAndGlyphs"
              >
                {"perp. dist: "}
                <tspan fontFamily={MATH}>{it.dist}</tspan>
              </text>
            </g>
          );
        })}
      </svg>
    </div>
  );
}
